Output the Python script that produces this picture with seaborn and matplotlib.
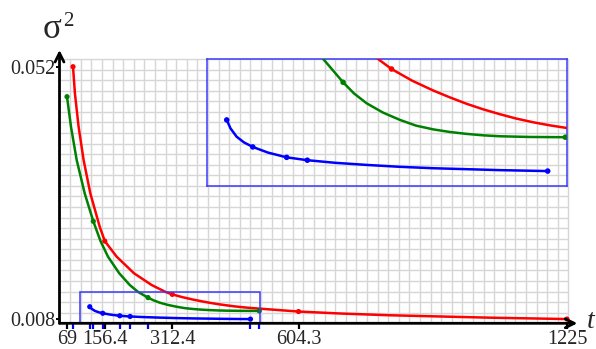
import matplotlib
matplotlib.use("Agg")
import matplotlib.pyplot as plt
import seaborn as sns
import pandas as pd
from matplotlib.patches import Rectangle

# ---------------- data ----------------
red_t = [82.9, 87.3, 95.8, 107.4, 122.9, 144.6, 156.4, 183.9, 224.1, 264.8, 297.2, 312.4,
         336.1, 360.8, 380.1, 399.4, 418.3, 438.0, 456.5, 476.5, 495.9, 515.2,
         604.3, 700, 815.8, 1047, 1225]
red_v = [0.05200, 0.04736, 0.04154, 0.03573, 0.02993, 0.02411, 0.0216, 0.01888, 0.01598, 0.01394,
         0.01272, 0.01231, 0.01182, 0.01140, 0.01111, 0.01084, 0.01061, 0.01040, 0.01022,
         0.01006, 0.00993, 0.00982, 0.00932, 0.00898, 0.00867, 0.00825, 0.00801]
green_t = [69, 78.2, 91.4, 109.9, 129.8, 146.5, 163.8, 189.9, 214.2, 233.6, 244.6, 256.3,
           268.9, 283.7, 302.5, 322.2, 340.7, 360.8, 380.1, 399.4, 418.3, 438.0, 472.7, 513.6]
green_v = [0.04677, 0.04154, 0.03573, 0.02993, 0.02505, 0.02161, 0.01888, 0.01598, 0.01394,
           0.01272, 0.01225, 0.01175, 0.01128, 0.01086, 0.01047, 0.01016, 0.00992, 0.00976,
           0.00965, 0.00957, 0.00951, 0.00947, 0.00944, 0.00943]
blue_t = [121.6, 126.0, 133.1, 141.6, 151.7, 169.4, 191.0, 214.9, 246.9, 283.7, 322.2,
          360.8, 399.4, 438.0, 493.2]
blue_v = [0.01016, 0.00980, 0.00945, 0.00921, 0.00902, 0.00878, 0.00858, 0.00846, 0.00835,
          0.00826, 0.00818, 0.00812, 0.00808, 0.00804, 0.00800]

red_pt_t = [82.9, 156.4, 312.4, 604.3, 1225]
red_pt_v = [0.0520, 0.0216, 0.01231, 0.00932, 0.00801]
green_pt_t = [69, 129.8, 256.3, 513.6]
green_pt_v = [0.04677, 0.02505, 0.01175, 0.00943]
blue_pt_t = [121.6, 151.7, 191.0, 214.9, 493.2]
blue_pt_v = [0.01016, 0.00902, 0.00858, 0.00846, 0.00800]

x_ticks = [69, 156.4, 312.4, 604.3, 1225]
x_tick_labels = ["69", "156.4", "312.4", "604.3", "1225"]
y_ticks = [0.008, 0.052]
y_tick_labels = ["0.008", "0.052"]

zoom_t = (99.1, 515.2)
zoom_v = (0.00737, 0.01272)

# ---------------- style ----------------
sns.set_theme(style="white")
plt.rcParams["font.family"] = ["Liberation Serif", "DejaVu Serif"]

colors = {"red": "#ff0000", "green": "#008000", "blue": "#0000ff"}

lines = pd.concat([
    pd.DataFrame({"t": red_t, "v": red_v, "s": "red"}),
    pd.DataFrame({"t": green_t, "v": green_v, "s": "green"}),
    pd.DataFrame({"t": blue_t, "v": blue_v, "s": "blue"}),
], ignore_index=True)
pts = pd.concat([
    pd.DataFrame({"t": red_pt_t, "v": red_pt_v, "s": "red"}),
    pd.DataFrame({"t": green_pt_t, "v": green_pt_v, "s": "green"}),
    pd.DataFrame({"t": blue_pt_t, "v": blue_pt_v, "s": "blue"}),
], ignore_index=True)

W, H = 596, 349
fig = plt.figure(figsize=(W / 100, H / 100), dpi=100)
fig.patch.set_facecolor("white")

# main axes: pixel box (59.5, 50) - (577.3, 323.3)
ax = fig.add_axes([59.5 / W, (H - 323.3) / H, (577.3 - 59.5) / W, (323.3 - 50) / H])
ax.set_facecolor("none")
x0, x1 = 51.66, 1248.9
y0, y1 = 0.00727, 0.05491
ax.set_xlim(x0, x1)
ax.set_ylim(y0, y1)

# square light grid
gx, gy = 24.51, 0.001843
gx_end, gy_end = x0 + 48 * gx, y0 + 25 * gy
ax.vlines([x0 + k * gx for k in range(1, 49)], y0, gy_end, colors="#d6d6d6", lw=1.0, zorder=0)
ax.hlines([y0 + k * gy for k in range(1, 26)], x0, gx_end, colors="#d6d6d6", lw=1.0, zorder=0)

line_kw = dict(sort=False, estimator=None, units="s", legend=False, lw=1.8, zorder=3)
sns.lineplot(data=lines, x="t", y="v", hue="s", palette=colors, ax=ax, **line_kw)
sns.scatterplot(data=pts, x="t", y="v", hue="s", palette=colors, s=14,
                edgecolor="none", legend=False, ax=ax, zorder=4)

# zoom rectangle
ax.add_patch(Rectangle((zoom_t[0], zoom_v[0]), zoom_t[1] - zoom_t[0], zoom_v[1] - zoom_v[0],
                       fill=False, edgecolor="#3a3aff", lw=1.1, zorder=5))

for s in ax.spines.values():
    s.set_visible(False)
ax.set_xlabel("")
ax.set_ylabel("")

ax.set_xticks(x_ticks)
ax.set_xticklabels(x_tick_labels)
minor = sorted(set(red_pt_t + green_pt_t + blue_pt_t) - set(x_ticks))
ax.set_xticks(minor, minor=True)
ax.tick_params(axis="x", which="major", direction="out", length=4, width=1.6, color="black",
               labelsize=14.5, pad=1, bottom=True)
ax.tick_params(axis="x", which="minor", direction="out", length=4, width=1.6, color="#0000ff",
               bottom=True)
ax.set_yticks(y_ticks)
ax.set_yticklabels(y_tick_labels)
ax.tick_params(axis="y", which="major", direction="out", length=3, width=1.4, color="black",
               labelsize=14.5, pad=0, left=True)

# axis arrows
arrow = dict(arrowstyle="->", lw=2.0, color="black", mutation_scale=16, shrinkA=0, shrinkB=0)
ax.annotate("", xy=(1, 0), xytext=(0, 0), xycoords="axes fraction", arrowprops=arrow, zorder=6)
ax.annotate("", xy=(0, 1), xytext=(0, 0), xycoords="axes fraction", arrowprops=arrow, zorder=6)

# axis titles
fig.text(52 / W, 1 - 29 / H, "σ", fontsize=25, ha="center", va="center")
fig.text(68 / W, 1 - 21 / H, "2", fontsize=15, ha="center", va="center")
fig.text(591 / W, 1 - 322 / H, "t", fontsize=20, style="italic", ha="center", va="center")

# inset (magnified zoom window)
axi = fig.add_axes([207.3 / W, (H - 186) / H, (566.7 - 207.3) / W, (186 - 59.3) / H])
axi.set_facecolor("none")
sns.lineplot(data=lines, x="t", y="v", hue="s", palette=colors, ax=axi, **line_kw)
sns.scatterplot(data=pts, x="t", y="v", hue="s", palette=colors, s=16,
                edgecolor="none", legend=False, ax=axi, zorder=4)
axi.set_xlim(*zoom_t)
axi.set_ylim(*zoom_v)
axi.set_xticks([])
axi.set_yticks([])
axi.set_xlabel("")
axi.set_ylabel("")
for s in axi.spines.values():
    s.set_visible(True)
    s.set_color("#3a3aff")
    s.set_linewidth(1.1)

fig.savefig("out.png", dpi=100)
